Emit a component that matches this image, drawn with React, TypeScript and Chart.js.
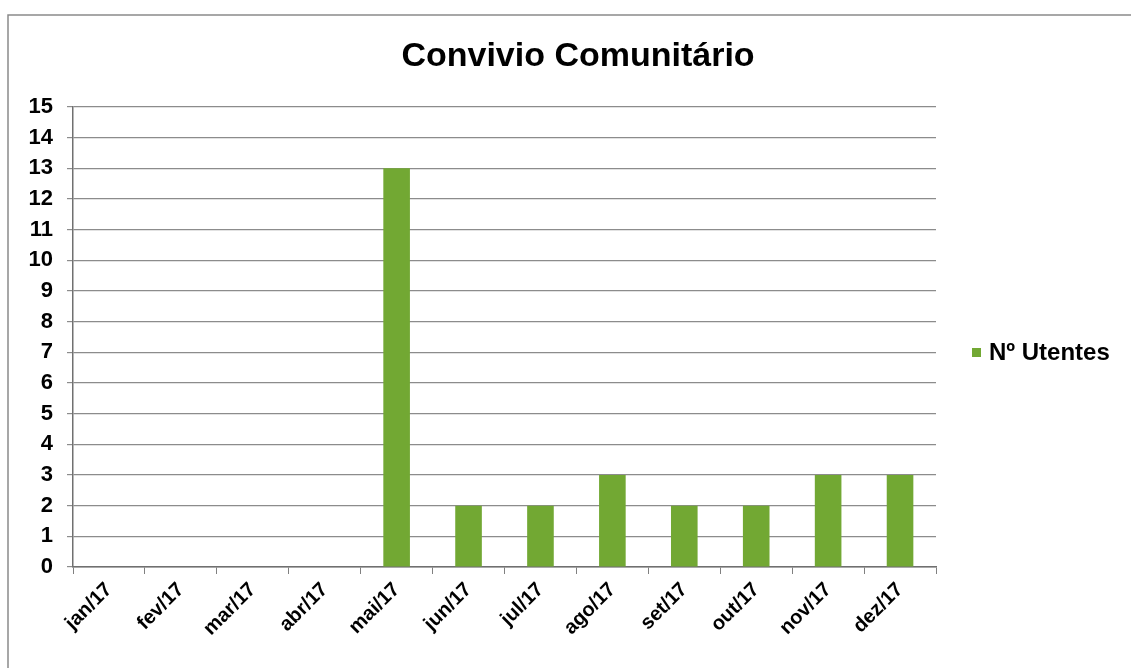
import React, { useEffect, useRef } from "react";
import { Chart, registerables } from "chart.js";

Chart.register(...registerables);

const categories = ["jan/17", "fev/17", "mar/17", "abr/17", "mai/17", "jun/17", "jul/17", "ago/17", "set/17", "out/17", "nov/17", "dez/17"];
const utentes = [0, 0, 0, 0, 13, 2, 2, 3, 2, 2, 3, 3];
const seriesName = "Nº Utentes";
const chartTitle = "Convivio Comunitário";
const yMin = 0;
const yMax = 15;

const FONT = "'Liberation Sans', Arial, sans-serif";
const BAR_COLOR = "#72a833";

const decorPlugin = {
  id: "decor",
  beforeDraw(chart: any) {
    const ctx = chart.ctx;
    ctx.save();
    ctx.strokeStyle = "#8a8a8a";
    ctx.lineWidth = 1.5;
    ctx.beginPath();
    ctx.moveTo(8, 668);
    ctx.lineTo(8, 15);
    ctx.lineTo(1131, 15);
    ctx.stroke();
    ctx.fillStyle = "#000";
    ctx.font = "bold 34px " + FONT;
    ctx.textAlign = "center";
    ctx.textBaseline = "alphabetic";
    ctx.fillText(chartTitle, 578, 66);
    // legend
    const label = chart.data.datasets[0].label;
    ctx.fillStyle = chart.data.datasets[0].backgroundColor;
    ctx.fillRect(972, 348, 9, 9);
    ctx.fillStyle = "#000";
    ctx.font = "bold 24px " + FONT;
    ctx.textAlign = "left";
    ctx.textBaseline = "middle";
    ctx.fillText(label, 989, 353);
    ctx.restore();
  },
};

export default function App() {
  const ref = useRef<HTMLCanvasElement | null>(null);
  useEffect(() => {
    if (!ref.current) return;
    const chart = new Chart(ref.current, {
      type: "bar",
      data: {
        labels: categories,
        datasets: [
          {
            label: seriesName,
            data: utentes,
            backgroundColor: BAR_COLOR,
            borderWidth: 0,
            barPercentage: 0.37,
            categoryPercentage: 1,
          },
        ],
      },
      options: {
        animation: false,
        responsive: false,
        maintainAspectRatio: false,
        layout: { padding: { left: 10, right: 195, top: 107, bottom: 4 } },
        plugins: {
          tooltip: { enabled: false },
          title: { display: false },
          legend: { display: false },
        },
        scales: {
          x: {
            grid: {
              display: true,
              drawOnChartArea: false,
              drawTicks: true,
              tickLength: 7,
              color: "#808080",
              offset: true,
            },
            border: { display: true, color: "#707070", width: 1.5 },
            ticks: {
              color: "#000",
              maxRotation: 45,
              minRotation: 45,
              autoSkip: false,
              padding: 4,
              font: { family: FONT, size: 20, weight: "bold" },
            },
            afterFit(scale: any) {
              scale.height = 97;
            },
          },
          y: {
            min: yMin,
            max: yMax,
            grid: {
              color: "#8c8c8c",
              lineWidth: 1.2,
              drawTicks: true,
              tickLength: 6,
            },
            border: { display: true, color: "#707070", width: 1.5 },
            ticks: {
              stepSize: 1,
              autoSkip: false,
              color: "#000",
              padding: 14,
              font: { family: FONT, size: 22, weight: "bold" },
            },
            afterFit(scale: any) {
              scale.width = 63;
            },
          },
        },
      },
      plugins: [decorPlugin],
    });
    return () => chart.destroy();
  }, []);
  return (
    <div style={{ position: "absolute", left: 0, top: 0, width: 1131, height: 668, background: "#fff" }}>
      <canvas ref={ref} width={1131} height={668} style={{ display: "block" }} />
    </div>
  );
}
